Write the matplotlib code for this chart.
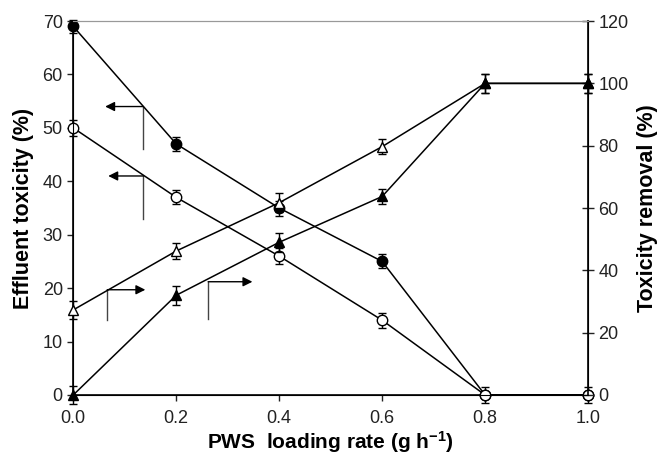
import matplotlib
matplotlib.use("Agg")
import matplotlib.pyplot as plt

plt.rcParams["font.family"] = ["Liberation Sans", "DejaVu Sans"]
plt.rcParams["mathtext.fontset"] = "custom"
plt.rcParams["mathtext.rm"] = "Liberation Sans:bold"
plt.rcParams["mathtext.default"] = "rm"

# PWS loading rate (g h^-1)
rate = [0.0, 0.2, 0.4, 0.6, 0.8, 1.0]

# effluent toxicity (%), left axis
tox_filled = [69, 47, 35, 25, 0, 0]
tox_filled_err = [1.2, 1.3, 1.4, 1.3, 0, 0]
tox_open = [50, 37, 26, 14, 0, 0]
tox_open_err = [1.5, 1.3, 1.5, 1.4, 1.5, 1.5]

# toxicity removal (%), right axis
rem_open = [27.3, 46.2, 61.7, 79.7, 100, 100]
rem_open_err = [3, 2.5, 3, 2.5, 3, 3]
rem_filled = [0, 32, 49, 63.7, 100, 100]
rem_filled_err = [3, 3, 3, 2.5, 3, 3]

fig = plt.figure(figsize=(6.6, 4.58), dpi=100)
ax = fig.add_axes([0.111, 0.1376, 0.78, 0.8164])
ax2 = ax.twinx()

eb = dict(color="black", lw=1.1, ms=7.5, capsize=3, elinewidth=1, capthick=1,
          markeredgewidth=1, clip_on=False, zorder=3)
ax.errorbar(rate, tox_filled, yerr=tox_filled_err, fmt="-o", mfc="black", **eb)
ax.errorbar(rate, tox_open, yerr=tox_open_err, fmt="-o", mfc="white", **eb)
ax2.errorbar(rate, rem_open, yerr=rem_open_err, fmt="-^", mfc="white", **eb)
ax2.errorbar(rate, rem_filled, yerr=rem_filled_err, fmt="-^", mfc="black", **eb)

# pointer arrows: (x of vertical stem, y top, y bottom, arrow tip x)
pointers_left = [(0.136, 54, 46, 0.062), (0.136, 41, 33, 0.068)]
pointers_right = [(0.066, 19.7, 14, 0.14), (0.262, 21.2, 14.2, 0.348)]
for x, yt, yb, tip in pointers_left + pointers_right:
    ax.plot([x, x], [yb, yt], color="#444444", lw=1)
    ax.annotate("", xy=(tip, yt), xytext=(x, yt),
                arrowprops=dict(arrowstyle="-|>", color="black", lw=1,
                                mutation_scale=14, shrinkA=0, shrinkB=0))

ax.set_xlim(0, 1.0)
ax.set_ylim(0, 70)
ax2.set_ylim(0, 120)
ax.set_xticks([0.0, 0.2, 0.4, 0.6, 0.8, 1.0])
ax.set_xticklabels(["0.0", "0.2", "0.4", "0.6", "0.8", "1.0"])
ax.set_yticks(range(0, 71, 10))
ax2.set_yticks(range(0, 121, 20))

for a in (ax, ax2):
    a.tick_params(labelsize=13, width=1, length=4, colors="#222222")
ax2.tick_params(axis="y", direction="inout", length=8)
ax.tick_params(axis="x", pad=7)

ax.spines["top"].set_color("#999999")
ax2.spines["top"].set_color("#999999")
for s in ("left", "bottom"):
    ax.spines[s].set_linewidth(1.2)
ax2.spines["right"].set_linewidth(1.2)

ax.set_xlabel("PWS  loading rate (g h$^{-1}$)", fontsize=15,
              fontweight="bold", labelpad=1)
ax.set_ylabel("Effluent toxicity (%)", fontsize=15.5, fontweight="bold",
              labelpad=6)
ax2.set_ylabel("Toxicity removal (%)", fontsize=15.5, fontweight="bold",
               labelpad=6)

fig.savefig("out.png", dpi=100, facecolor="white")
